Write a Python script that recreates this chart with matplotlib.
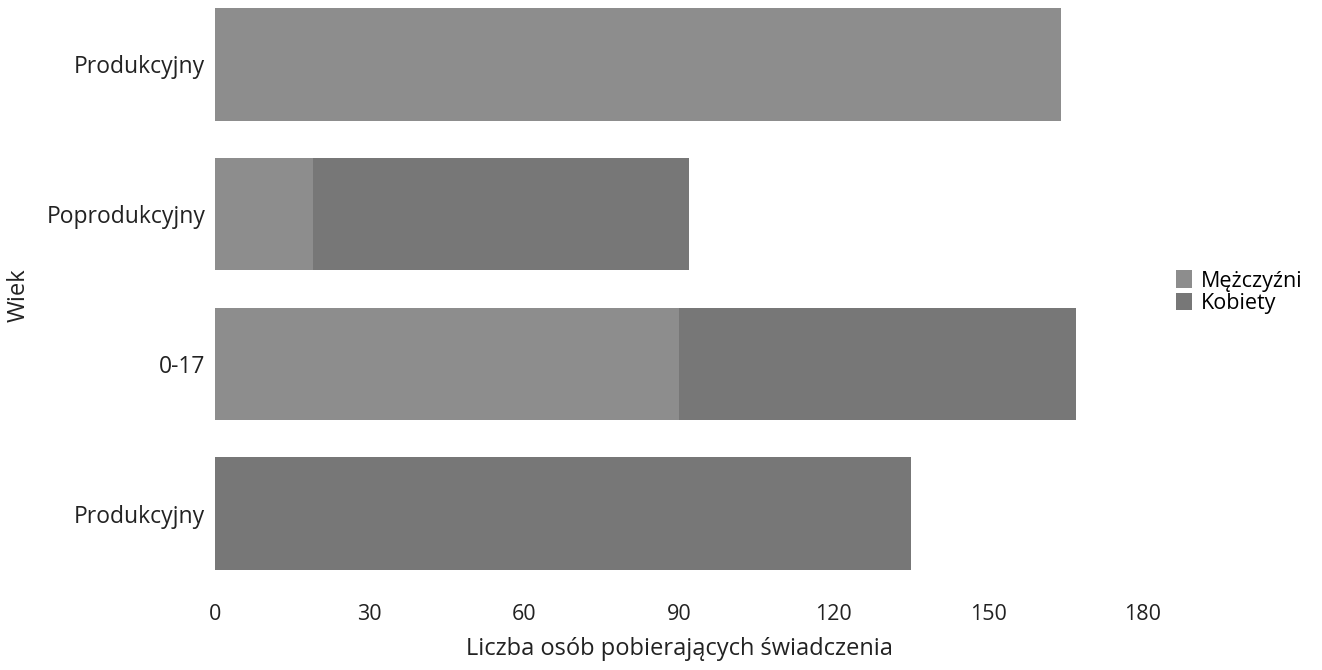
import numpy as np
import matplotlib.pyplot as plt

plt.rcParams['font.family'] = ['Open Sans', 'DejaVu Sans']

# categories listed bottom to top
wiek = ['Produkcyjny', '0-17', 'Poprodukcyjny', 'Produkcyjny']
mezczyzni = [0, 90, 19, 164]
kobiety = [135, 77, 73, 0]

c_m = '#8d8d8d'
c_k = '#777777'

fig = plt.figure(figsize=(13.22, 6.70), dpi=100)
ax = fig.add_axes([215/1322, 1 - 590/670, (1143 - 215)/1322, 590/670])

y = np.arange(len(wiek))
ax.barh(y, mezczyzni, height=0.75, color=c_m, label='Mężczyźni')
ax.barh(y, kobiety, left=mezczyzni, height=0.75, color=c_k, label='Kobiety')

ax.set_xlim(0, 180)
ax.set_ylim(-0.51, 3.43)
ax.set_xticks([0, 30, 60, 90, 120, 150, 180])
ax.set_yticks(y)
ax.set_yticklabels(wiek)
ax.tick_params(axis='both', length=0, colors='#222222')
ax.tick_params(axis='x', pad=10, labelsize=15.5)
ax.tick_params(axis='y', pad=7, labelsize=16.5)
for s in ax.spines.values():
    s.set_visible(False)

ax.set_xlabel('Liczba osób pobierających świadczenia', fontsize=17, labelpad=9, color='#222222')
ax.set_ylabel('Wiek', fontsize=17, color='#222222')
ax.yaxis.set_label_coords(-184/928, 0.5)

leg = ax.legend(loc='center left', bbox_to_anchor=(1.026, 0.505), frameon=False,
                fontsize=15.5, handlelength=0.75, handleheight=0.9, handletextpad=0.4,
                labelspacing=0.05, borderaxespad=0)

fig.savefig('out.png', dpi=100)
